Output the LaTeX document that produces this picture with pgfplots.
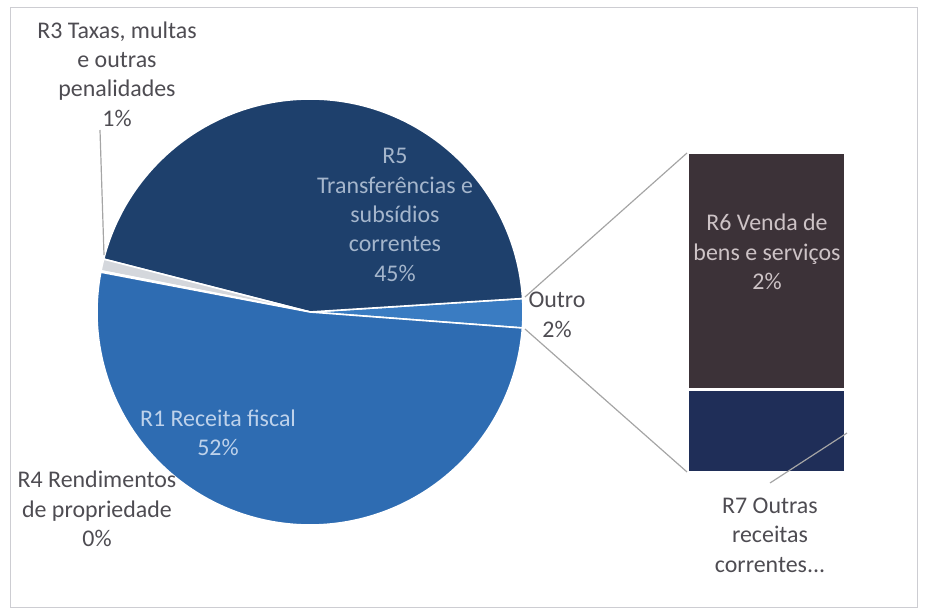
\documentclass[border=0pt]{standalone}
\usepackage{pgfplots}
\pgfplotsset{compat=1.18}
\usepackage{pgfplotstable}
\usepackage{fontspec}
\setmainfont{Carlito}

\definecolor{cR1}{RGB}{46,108,178}
\definecolor{cR5}{RGB}{30,64,108}
\definecolor{cOutro}{RGB}{58,124,194}
\definecolor{cR3}{RGB}{212,215,220}
\definecolor{cR4}{RGB}{170,178,190}
\definecolor{cR6}{RGB}{60,50,56}
\definecolor{cR7}{RGB}{31,46,88}
\definecolor{lbl}{RGB}{78,76,82}
\definecolor{conn}{RGB}{165,165,165}
\definecolor{frame}{RGB}{205,205,210}
\definecolor{tR5}{RGB}{165,182,204}
\definecolor{tR1}{RGB}{190,210,235}
\definecolor{tR6}{RGB}{205,195,198}

\newcommand\lf{\fontsize{24}{29.5}\selectfont}

% pie: slices counter-clockwise, starting at -4.3 degrees
\pgfplotstableread{
name value color
Outro 2.2 cOutro
R5 45.0 cR5
R3 0.9 cR3
R4 0.1 cR4
R1 51.8 cR1
}\piedata

% bar of pie (Outro split)
\pgfplotstableread{
name value
R7 0.57
}\barR
\pgfplotstableread{
name value
R6 1.63
}\barRsix

\begin{document}
\begin{tikzpicture}
\begin{axis}[
  at={(688bp,143bp)}, anchor=south west,
  scale only axis, width=157bp, height=319bp,
  xmin=0, xmax=1, ymin=0, ymax=2.2,
  hide axis, ybar stacked, bar width=157bp]
  \addplot[fill=cR7, draw=white, line width=2.5pt] table[x expr=0.5, y=value] {\barR};
  \addplot[fill=cR6, draw=white, line width=2.5pt] table[x expr=0.5, y=value] {\barRsix};
\end{axis}
\begin{axis}[
  at={(0,0)}, anchor=south west,
  scale only axis, width=925bp, height=615bp,
  xmin=0, xmax=925, ymin=0, ymax=615,
  hide axis, clip=false]
  \path (axis cs:0,0) rectangle (axis cs:925,615);
  % chart frame
  \draw[frame, line width=1pt] (axis cs:10,8) rectangle (axis cs:917,607);
  % pie slices
  \def\curang{-4.3}
  \pgfplotsforeachungrouped \i in {0,...,4}{%
    \pgfplotstablegetelem{\i}{value}\of\piedata \let\val\pgfplotsretval
    \pgfplotstablegetelem{\i}{color}\of\piedata \let\col\pgfplotsretval
    \pgfmathsetmacro\endang{\curang+3.6*\val}%
    \edef\temp{\noexpand\fill[\col, draw=white, line width=1.6pt, line join=round]
      (axis cs:310,303) -- ++(\curang:213bp)
      arc[start angle=\curang, end angle=\endang, radius=213bp] -- cycle;}%
    \temp
    \let\curang\endang
  }
  % connector lines
  \draw[conn, line width=1.2pt] (axis cs:525,318) -- (axis cs:687,462);
  \draw[conn, line width=1.2pt] (axis cs:525,286) -- (axis cs:687,143);
  % leader lines
  \draw[conn, line width=1.2pt] (axis cs:100,485) -- (axis cs:104,360);
  \draw[conn, line width=1.2pt] (axis cs:847,182) -- (axis cs:770,132);
  % labels
  \node[align=center, font=\lf, text=lbl] at (axis cs:117,541)
    {R3 Taxas, multas\\e outras\\penalidades\\1\%};
  \node[align=center, font=\lf, text=tR5] at (axis cs:395,400)
    {R5\\Transferências e\\subsídios\\correntes\\45\%};
  \node[align=center, font=\lf, text=lbl] at (axis cs:557,300)
    {Outro\\2\%};
  \node[align=center, font=\lf, text=tR1] at (axis cs:218,182)
    {R1 Receita fiscal\\52\%};
  \node[align=center, font=\lf, text=lbl] at (axis cs:97,106)
    {R4 Rendimentos\\de propriedade\\0\%};
  \node[align=center, font=\lf, text=tR6] at (axis cs:767,363)
    {R6 Venda de\\bens e serviços\\2\%};
  \node[align=center, font=\lf, text=lbl] at (axis cs:770,80)
    {R7 Outras\\receitas\\correntes...};
\end{axis}
\end{tikzpicture}
\end{document}
